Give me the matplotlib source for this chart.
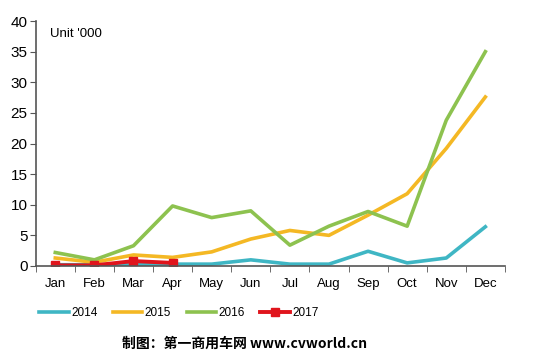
import matplotlib.pyplot as plt
import numpy as np

months = ["Jan", "Feb", "Mar", "Apr", "May", "Jun", "Jul", "Aug", "Sep", "Oct", "Nov", "Dec"]
s2014 = [0.2, 0.2, 0.3, 0.3, 0.3, 1.0, 0.3, 0.3, 2.4, 0.5, 1.3, 6.4]
s2015 = [1.3, 0.6, 1.8, 1.4, 2.3, 4.4, 5.8, 5.0, 8.3, 11.8, 19.2, 27.6]
s2016 = [2.2, 1.0, 3.3, 9.8, 7.9, 9.0, 3.4, 6.5, 8.9, 6.5, 23.8, 35.0]
s2017 = [0.1, 0.1, 0.8, 0.5]

plt.rcParams['font.family'] = ['Liberation Sans', 'DejaVu Sans']
fig = plt.figure(figsize=(5.5, 3.57), dpi=100)
ax = fig.add_axes([0.065, 0.255, 0.853, 0.686])

x = np.arange(len(months))
ax.plot(x, s2014, color='#3fb6c4', lw=2.6, label='2014')
ax.plot(x, s2015, color='#f4b824', lw=2.6, label='2015')
ax.plot(x, s2016, color='#8dc24f', lw=2.6, label='2016')
ax.plot(x[:len(s2017)], s2017, color='#e0141c', lw=2.8, marker='s', ms=5.5, label='2017')

ax.set_xlim(-0.5, 11.5)
ax.set_ylim(0, 40)
ax.set_yticks(range(0, 41, 5))
ax.set_xticks(x)
ax.set_xticklabels(months)
ax.set_xticks(np.arange(-0.5, 12, 1), minor=True)
ax.tick_params(axis='x', which='major', length=0, labelsize=9.5, pad=9)
ax.tick_params(axis='x', which='minor', length=4, direction='out', color='#555555')
ax.tick_params(axis='y', length=4, direction='out', labelsize=11, color='#555555', pad=2)
ax.spines['top'].set_visible(False)
ax.spines['right'].set_visible(False)
ax.spines['left'].set_color('#555555')
ax.spines['bottom'].set_color('#555555')
ax.spines['left'].set_linewidth(1.2)
ax.spines['bottom'].set_linewidth(1.2)

ax.text(0.03, 0.97, "Unit '000", transform=ax.transAxes, fontsize=9.5, va='top', ha='left')

ax.legend(loc='upper left', bbox_to_anchor=(-0.015, -0.125), ncol=4, frameon=False,
          fontsize=8.5, handlelength=2.5, handletextpad=0.2, columnspacing=1.3)

fig.text(0.445, 0.038, "制图：第一商用车网 www.cvworld.cn", ha='center', va='center',
         fontsize=10, fontweight='bold', family=['Noto Sans CJK SC', 'DejaVu Sans'])

fig.savefig('out.png', dpi=100)
